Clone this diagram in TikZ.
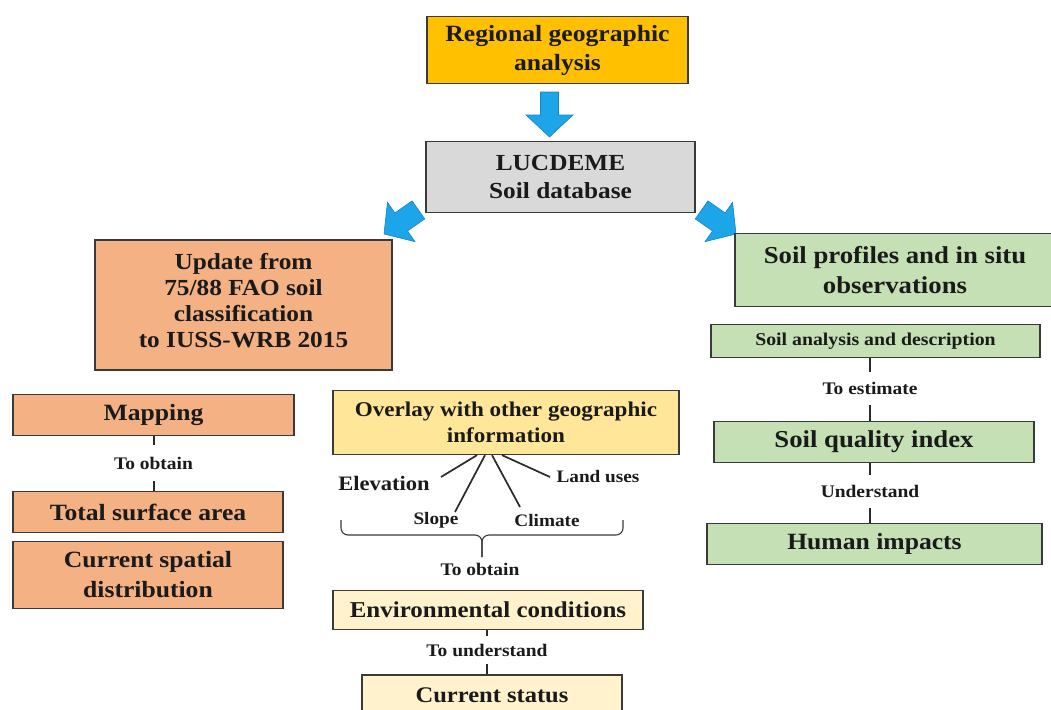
\documentclass[tikz,border=0pt]{standalone}
\usepackage{fontspec}
\setmainfont{Liberation Serif}[FakeStretch=1.1]
\definecolor{gold}{HTML}{FFC000}
\definecolor{grayb}{HTML}{D9D9D9}
\definecolor{orangeb}{HTML}{F4B183}
\definecolor{yellowb}{HTML}{FFE699}
\definecolor{paleb}{HTML}{FFF2CC}
\definecolor{greenb}{HTML}{C5E0B4}
\definecolor{edge}{HTML}{3A3A3A}
\definecolor{txt}{HTML}{1A1A1A}
\definecolor{linkc}{HTML}{2A2A2A}
\definecolor{arrowblue}{HTML}{1CA5E8}
\definecolor{arrowedge}{HTML}{1683C4}
\newcommand{\fsz}[2]{\fontsize{#1}{#2}\selectfont}
\tikzset{
  box/.style={draw=edge, line width=1.3pt, align=center, font=\bfseries, text=txt, inner sep=2pt},
  lab/.style={font=\bfseries\fsz{17.7}{20}, text=txt, inner sep=0pt},
  gap/.style={minimum height=#1},
  link/.style={draw=linkc, line width=2pt},
  thin/.style={draw=linkc, line width=1.7pt},
  bluearrow/.style={fill=arrowblue, draw=arrowedge, line width=0.6pt, line join=miter}
}
\begin{document}
\begin{tikzpicture}[x=1pt,y=-1pt]
\useasboundingbox (0,0) rectangle (1051,709);
\clip (0,0) rectangle (1051,709);
\fill[white] (0,0) rectangle (1051,709);

% top
\node[box, fill=gold, minimum width=261pt, minimum height=67pt, font=\bfseries\fsz{23.3}{29}] (reg) at (557.5,50) {Regional geographic\\analysis};
\node[box, fill=grayb, minimum width=269pt, minimum height=71pt, font=\bfseries\fsz{23}{28}] (luc) at (560.5,177) {LUCDEME\\Soil database};

% block arrows
\begin{scope}[shift={(549.5,137)}, rotate=-90]
  \path[bluearrow] (0,0) -- (-22,23.5) -- (-22,9) -- (-45,9) -- (-45,-9) -- (-22,-9) -- (-22,-23.5) -- cycle;
\end{scope}
\begin{scope}[shift={(384,234)}, rotate=-145]
  \path[bluearrow] (0,0) -- (-21,24) -- (-21,11) -- (-42,11) -- (-42,-11) -- (-21,-11) -- (-21,-24) -- cycle;
\end{scope}
\begin{scope}[shift={(736,234)}, rotate=-35]
  \path[bluearrow] (0,0) -- (-21,24) -- (-21,11) -- (-42,11) -- (-42,-11) -- (-21,-11) -- (-21,-24) -- cycle;
\end{scope}

% left branch
\node[box, fill=orangeb, minimum width=297pt, minimum height=130pt] (upd) at (243.5,305) {};
\node[font=\bfseries\fsz{23}{26}, text=txt, align=center, inner sep=0pt] (updtext) at (243.5,301) {Update from\\75/88 FAO soil\\classification\\to IUSS-WRB 2015};
\node[box, fill=orangeb, minimum width=281pt, minimum height=41pt, font=\bfseries\fsz{23.3}{26}] (map) at (153.5,415) {Mapping};
\node[lab, gap=36pt] (tob1) at (153.5,463) {To obtain};
\node[box, fill=orangeb, minimum width=270pt, minimum height=41pt, font=\bfseries\fsz{23.3}{26}] (tot) at (148,512) {Total surface area};
\node[box, fill=orangeb, minimum width=270pt, minimum height=67pt, font=\bfseries\fsz{23.3}{30}] (cur) at (148,575) {Current spatial\\distribution};
\draw[link] (map.south) -- (tob1.north);
\draw[link] (tob1.south) -- (tot.north -| tob1.south);

% middle branch
\node[box, fill=yellowb, minimum width=346pt, minimum height=64pt, font=\bfseries\fsz{21}{26}] (ovl) at (506,422.5) {Overlay with other geographic\\information};
\node[font=\bfseries\fsz{20.5}{23}, text=txt, inner sep=0pt] (elev) at (384,483) {Elevation};
\node[font=\bfseries\fsz{17.5}{20}, text=txt, inner sep=0pt] (slope) at (436,520) {Slope};
\node[font=\bfseries\fsz{17.5}{20}, text=txt, inner sep=0pt] (clim) at (547,521) {Climate};
\node[font=\bfseries\fsz{17.5}{20}, text=txt, inner sep=0pt] (land) at (598,477) {Land uses};
\coordinate (e1) at (441,477);
\coordinate (s1) at (455,512);
\coordinate (c1) at (520,507);
\coordinate (l1) at (550,477);
\draw[thin] ([xshift=-29pt]ovl.south) -- (e1);
\draw[thin] ([xshift=-21pt]ovl.south) -- (s1);
\draw[thin] ([xshift=-14pt]ovl.south) -- (c1);
\draw[thin] ([xshift=-4pt]ovl.south) -- (l1);
\node[lab] (tob2) at (480,569) {To obtain};
\coordinate (bl) at (341,520);
\coordinate (br) at (623,520);
\coordinate (btip) at (482,557);
\draw[draw=edge, line width=1.1pt, rounded corners=7pt] (bl) -- (341,535) -- (482,535) -- (btip);
\draw[draw=edge, line width=1.1pt, rounded corners=7pt] (br) -- (623,535) -- (482,535) -- (btip);
\node[box, fill=paleb, minimum width=310pt, minimum height=39pt, font=\bfseries\fsz{22.7}{25}] (env) at (488,610) {Environmental conditions};
\node[lab, gap=28pt] (tund) at (487,650) {To understand};
\node[box, fill=paleb, minimum width=260pt, minimum height=45pt] (cst) at (492,697.5) {};
\node[font=\bfseries\fsz{22.3}{25}, text=txt, inner sep=0pt, anchor=base] (csttext) at (492,702) {Current status};
\draw[link] (env.south -| tund.north) -- (tund.north);
\draw[link] (tund.south) -- (cst.north -| tund.south);

% right branch
\node[box, fill=greenb, minimum width=320pt, minimum height=73pt, font=\bfseries\fsz{24.3}{30}] (spr) at (895,270) {Soil profiles and in situ\\observations};
\node[box, fill=greenb, minimum width=329pt, minimum height=33pt, font=\bfseries\fsz{18}{20}] (san) at (875.5,341) {Soil analysis and description};
\node[lab, gap=33pt] (test) at (870,388.5) {To estimate};
\node[box, fill=greenb, minimum width=320pt, minimum height=41pt, font=\bfseries\fsz{24.3}{26}] (sqi) at (874,442) {Soil quality index};
\node[lab, gap=33pt] (und) at (870,491.5) {Understand};
\node[box, fill=greenb, minimum width=335pt, minimum height=41pt, font=\bfseries\fsz{23.3}{26}] (hum) at (874.5,544) {Human impacts};
\draw[link] (san.south -| test.north) -- (test.north);
\draw[link] (test.south) -- (sqi.north -| test.south);
\draw[link] (sqi.south -| und.north) -- (und.north);
\draw[link] (und.south) -- (hum.north -| und.south);
\end{tikzpicture}
\end{document}
